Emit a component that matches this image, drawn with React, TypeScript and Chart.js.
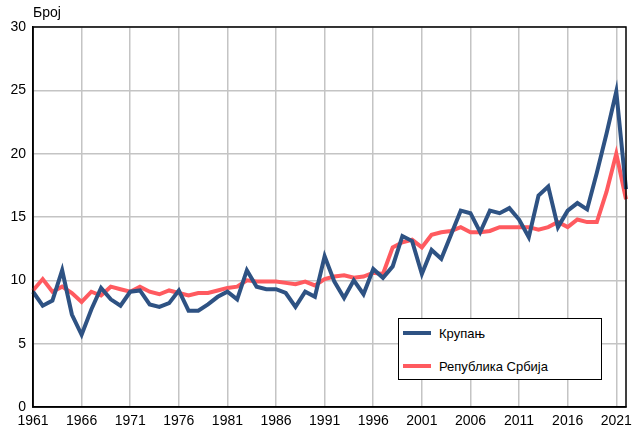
import React, { useEffect, useRef } from "react";
import { Chart, registerables } from "chart.js";

Chart.register(...registerables);

const years: string[] = [];
for (let y = 1961; y <= 2022; y++) years.push(String(y));

const krupanj = [
  9.1, 8.0, 8.4, 10.8, 7.3, 5.7, 7.7, 9.4, 8.5, 8.0,
  9.1, 9.2, 8.1, 7.9, 8.2, 9.2, 7.6, 7.6, 8.1, 8.7,
  9.1, 8.5, 10.8, 9.5, 9.3, 9.3, 9.0, 7.9, 9.1, 8.7,
  11.9, 9.9, 8.6, 10.0, 8.9, 10.9, 10.2, 11.1, 13.5, 13.1,
  10.5, 12.4, 11.7, 13.6, 15.5, 15.3, 13.8, 15.5, 15.3, 15.7,
  14.8, 13.4, 16.7, 17.4, 14.2, 15.5, 16.1, 15.6, 18.5, 21.6,
  24.9, 17.2,
];

const srbija = [
  9.2, 10.1, 9.1, 9.5, 9.0, 8.3, 9.1, 8.8, 9.5, 9.3,
  9.1, 9.5, 9.1, 8.9, 9.2, 9.0, 8.8, 9.0, 9.0, 9.2,
  9.4, 9.5, 10.0, 9.9, 9.9, 9.9, 9.8, 9.7, 9.9, 9.6,
  10.1, 10.3, 10.4, 10.2, 10.3, 10.6, 10.5, 12.6, 13.0, 13.2,
  12.6, 13.6, 13.8, 13.9, 14.2, 13.8, 13.8, 13.9, 14.2, 14.2,
  14.2, 14.2, 14.0, 14.2, 14.6, 14.2, 14.8, 14.6, 14.6, 17.0,
  20.0, 16.4,
];

const seriesNames = ["Крупањ", "Република Србија"];
const colors = ["#2E5283", "#FF5A5F"];
const yTitle = "Број";

const FONT = "'Liberation Sans', Arial, sans-serif";

const borderPlugin = {
  id: "frameBorder",
  afterDraw(chart: any) {
    const { ctx, chartArea } = chart;
    ctx.save();
    ctx.strokeStyle = "#000";
    ctx.lineWidth = 1.5;
    ctx.strokeRect(chartArea.left, chartArea.top, chartArea.right - chartArea.left, chartArea.bottom - chartArea.top);
    ctx.restore();
  },
};

export default function App() {
  const ref = useRef<HTMLCanvasElement | null>(null);

  useEffect(() => {
    document.body.style.margin = "0";
    if (!ref.current) return;
    const chart = new Chart(ref.current, {
      type: "line",
      data: {
        labels: years,
        datasets: [
          {
            label: seriesNames[0],
            data: krupanj,
            borderColor: colors[0],
            backgroundColor: colors[0],
            borderWidth: 4,
            pointRadius: 0,
            tension: 0,
          },
          {
            label: seriesNames[1],
            data: srbija,
            borderColor: colors[1],
            backgroundColor: colors[1],
            borderWidth: 4,
            pointRadius: 0,
            tension: 0,
          },
        ],
      },
      options: {
        animation: false,
        responsive: false,
        maintainAspectRatio: false,
        layout: { padding: { top: 27, right: 5, left: 0, bottom: 0 } },
        plugins: {
          legend: { display: false },
          tooltip: { enabled: false },
          title: { display: false },
        },
        scales: {
          x: {
            type: "category",
            offset: false,
            border: { display: true, color: "#000", width: 1.5 },
            grid: {
              color: (c: any) => (c.index % 5 === 0 ? "#c4c4c4" : "rgba(0,0,0,0)"),
              lineWidth: 1.5,
              drawTicks: false,
            },
            ticks: {
              autoSkip: false,
              maxRotation: 0,
              minRotation: 0,
              padding: 6,
              color: "#000",
              font: { family: FONT, size: 14 },
              callback: (_v: any, i: number) => (i % 5 === 0 ? years[i] : ""),
            },
            afterFit: (s: any) => {
              s.height = 23;
            },
          },
          y: {
            min: 0,
            max: 30,
            border: { display: true, color: "#000", width: 1.5 },
            grid: { color: "#c4c4c4", lineWidth: 1.5, drawTicks: false },
            ticks: {
              stepSize: 5,
              padding: 7,
              color: "#000",
              font: { family: FONT, size: 14 },
            },
            afterFit: (s: any) => {
              s.width = 33;
            },
          },
        },
      },
      plugins: [borderPlugin],
    } as any);
    return () => chart.destroy();
  }, []);

  return (
    <div style={{ position: "relative", width: 632, height: 430, overflow: "hidden", fontFamily: FONT }}>
      <canvas ref={ref} width={632} height={430} style={{ display: "block" }} />
      <div style={{ position: "absolute", left: 33, top: 4, fontSize: 14, color: "#000" }}>{yTitle}</div>
      <div
        style={{
          position: "absolute",
          left: 398,
          top: 318,
          width: 204,
          height: 62,
          boxSizing: "border-box",
          border: "1px solid #000",
          background: "#fff",
          fontSize: 13,
          color: "#000",
        }}
      >
        {seriesNames.map((n, i) => (
          <div
            key={n}
            style={{ position: "absolute", left: 4, top: i === 0 ? 6 : 39, display: "flex", alignItems: "center", height: 16 }}
          >
            <span style={{ display: "inline-block", width: 28, height: 4, background: colors[i], marginRight: 8 }} />
            <span>{n}</span>
          </div>
        ))}
      </div>
    </div>
  );
}
